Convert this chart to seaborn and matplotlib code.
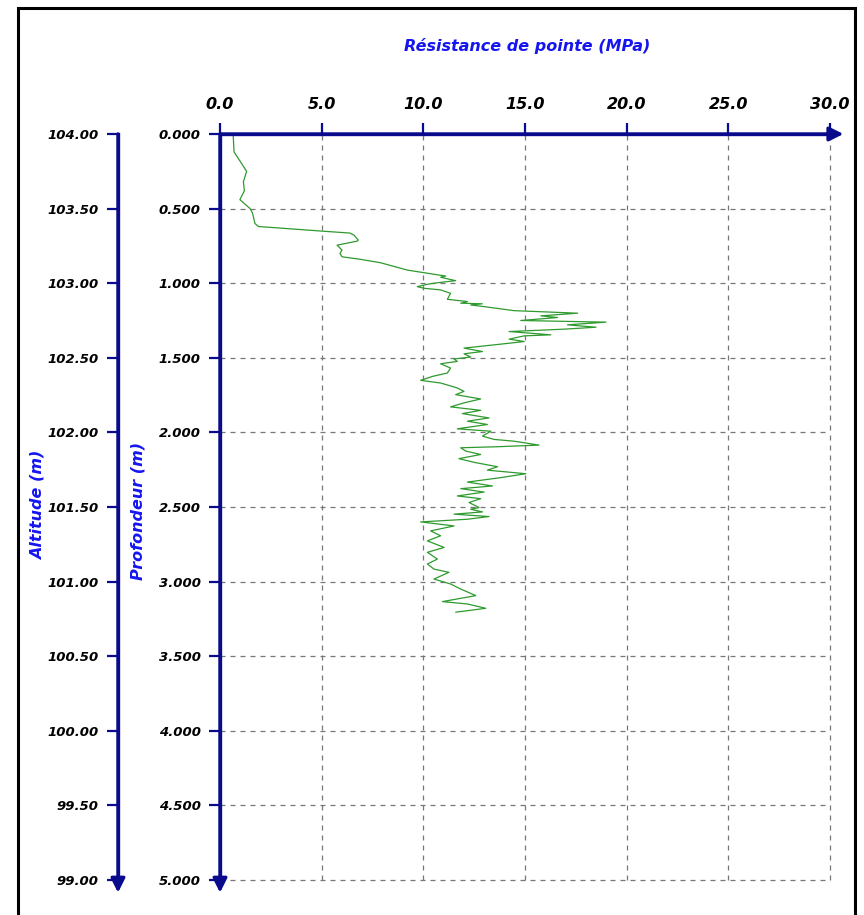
import matplotlib
matplotlib.use("Agg")
import matplotlib.pyplot as plt
from matplotlib.patches import Rectangle
from matplotlib.ticker import FormatStrFormatter
import seaborn as sns

# ---- data ----
qc = [0.65, 0.65, 0.69, 1.31, 1.15, 1.20, 0.98, 1.48, 1.60, 1.72, 1.89, 4.92, 6.39, 6.59, 6.80,
      6.75, 5.76, 6.00, 5.90, 6.00, 6.91, 7.90, 9.21, 10.52, 11.10, 10.85, 11.59, 10.69, 10.20,
      9.70, 10.03, 10.85, 11.34, 11.18, 12.17, 11.84, 12.90, 12.33, 12.99, 14.46, 17.59, 15.78,
      16.60, 14.79, 18.98, 17.09, 18.49, 16.93, 14.22, 16.27, 14.96, 14.22, 14.96, 13.97, 12.00,
      12.91, 12.00, 12.33, 11.51, 11.67, 10.85, 11.34, 11.18, 10.44, 9.87, 10.85, 11.67, 12.00,
      11.59, 12.82, 12.00, 11.34, 12.82, 11.92, 13.23, 12.17, 13.15, 11.67, 13.32, 12.91, 13.48,
      14.46, 15.69, 13.65, 11.84, 12.08, 12.82, 11.75, 12.58, 13.65, 13.15, 15.04, 13.81, 12.17,
      13.40, 11.84, 12.99, 11.67, 12.82, 12.25, 12.74, 12.33, 12.91, 11.51, 13.23, 12.17, 9.87,
      11.51, 10.36, 10.85, 10.20, 11.02, 10.20, 10.69, 10.20, 10.52, 11.26, 10.52, 11.34, 11.84,
      12.58, 10.94, 12.17, 13.07, 11.59]
depth = [0.000, 0.010, 0.120, 0.250, 0.320, 0.380, 0.440, 0.500, 0.530, 0.600, 0.620, 0.650, 0.664,
         0.678, 0.711, 0.718, 0.745, 0.778, 0.800, 0.823, 0.840, 0.863, 0.912, 0.940, 0.952, 0.960,
         0.983, 0.997, 1.007, 1.023, 1.034, 1.045, 1.068, 1.108, 1.123, 1.134, 1.138, 1.146, 1.157,
         1.184, 1.201, 1.219, 1.230, 1.250, 1.261, 1.279, 1.295, 1.308, 1.324, 1.346, 1.353, 1.375,
         1.391, 1.406, 1.435, 1.458, 1.473, 1.495, 1.508, 1.524, 1.540, 1.569, 1.602, 1.625, 1.651,
         1.669, 1.702, 1.725, 1.747, 1.776, 1.802, 1.829, 1.852, 1.874, 1.903, 1.925, 1.947, 1.976,
         1.992, 2.025, 2.047, 2.059, 2.085, 2.096, 2.103, 2.125, 2.148, 2.176, 2.203, 2.230, 2.253,
         2.277, 2.303, 2.333, 2.359, 2.377, 2.400, 2.426, 2.444, 2.470, 2.504, 2.515, 2.533, 2.548,
         2.564, 2.582, 2.600, 2.627, 2.660, 2.693, 2.727, 2.771, 2.804, 2.849, 2.882, 2.916, 2.938,
         2.983, 3.016, 3.050, 3.094, 3.134, 3.150, 3.179, 3.205]

x_ticks = [0, 5, 10, 15, 20, 25, 30]
depth_ticks = [0.0, 0.5, 1.0, 1.5, 2.0, 2.5, 3.0, 3.5, 4.0, 4.5, 5.0]
top_altitude = 104.0

NAVY = "#0A0A8C"
GREEN = "#2E9A2E"
BLUE = "#1515F0"

sns.set_theme(style="white")
plt.rcParams["font.family"] = ["DejaVu Sans"]

fig = plt.figure(figsize=(8.64, 9.15), dpi=100)
ax = fig.add_axes([220 / 864, 1 - 880 / 915, 610 / 864, 746 / 915])

sns.lineplot(x=qc, y=depth, sort=False, estimator=None, color=GREEN, lw=0.9, ax=ax)

ax.set_xlim(0, 30)
ax.set_ylim(5, 0)
ax.xaxis.tick_top()
ax.set_xticks(x_ticks)
ax.set_yticks(depth_ticks)
ax.xaxis.set_major_formatter(FormatStrFormatter("%.1f"))
ax.yaxis.set_major_formatter(FormatStrFormatter("%.3f"))
ax.grid(True, color="#777777", lw=0.9, ls=(0, (4, 4)))
for gl in ax.get_xgridlines() + ax.get_ygridlines():
    gl.set_clip_on(False)
for s in ["right", "bottom"]:
    ax.spines[s].set_visible(False)
for s in ["top", "left"]:
    ax.spines[s].set_color(NAVY)
    ax.spines[s].set_linewidth(2.4)
    ax.spines[s].set_zorder(5)
ax.tick_params(axis="x", which="major", top=True, bottom=False, length=8, width=1.6,
               color=NAVY, pad=8, labelsize=11.5)
ax.tick_params(axis="y", which="major", left=True, length=8, width=1.6, color=NAVY,
               pad=6, labelsize=9.5)
for lab in ax.get_xticklabels() + ax.get_yticklabels():
    lab.set_fontweight("bold")
    lab.set_fontstyle("italic")
    lab.set_color("black")
ax.set_xlabel("")
ax.set_ylabel("")

# altitude axis
sec = ax.secondary_yaxis((118 - 220) / 610, functions=(lambda d: top_altitude - d,
                                                        lambda a: top_altitude - a))
sec.set_yticks([top_altitude - d for d in depth_ticks])
sec.yaxis.set_major_formatter(FormatStrFormatter("%.2f"))
sec.spines["left"].set_color(NAVY)
sec.spines["left"].set_linewidth(2.4)
sec.tick_params(axis="y", length=8, width=1.6, color=NAVY, pad=6, labelsize=9.5)
for lab in sec.get_yticklabels():
    lab.set_fontweight("bold")
    lab.set_fontstyle("italic")
    lab.set_color("black")

# arrows on axis ends
arrow_kw = dict(arrowstyle="-|>,head_length=0.7,head_width=0.35", lw=2.4, color=NAVY,
                shrinkA=0, shrinkB=0)
ax.annotate("", xy=(1.022, 1), xytext=(0, 1), xycoords="axes fraction",
            arrowprops=arrow_kw, annotation_clip=False)
ax.annotate("", xy=(0, -0.017), xytext=(0, 1), xycoords="axes fraction",
            arrowprops=arrow_kw, annotation_clip=False)
xs = (118 - 220) / 610
ax.annotate("", xy=(xs, -0.017), xytext=(xs, 1), xycoords="axes fraction",
            arrowprops=arrow_kw, annotation_clip=False)

# axis titles
title_kw = dict(color=BLUE, fontsize=11.5, fontweight="bold", fontstyle="italic",
                ha="center", va="center")
fig.text(527 / 864, 1 - 46 / 915, "Résistance de pointe (MPa)", **title_kw)
fig.text(138 / 864, 1 - 511 / 915, "Profondeur (m)", rotation=90, **title_kw)
fig.text(38 / 864, 1 - 505 / 915, "Altitude (m)", rotation=90, **title_kw)

# outer frame
fig.add_artist(Rectangle((18 / 864, -0.05), (855 - 18) / 864, 1.05 - 8 / 915,
                         transform=fig.transFigure, fill=False, ec="black", lw=2.2))

fig.savefig("out.png", dpi=100)
